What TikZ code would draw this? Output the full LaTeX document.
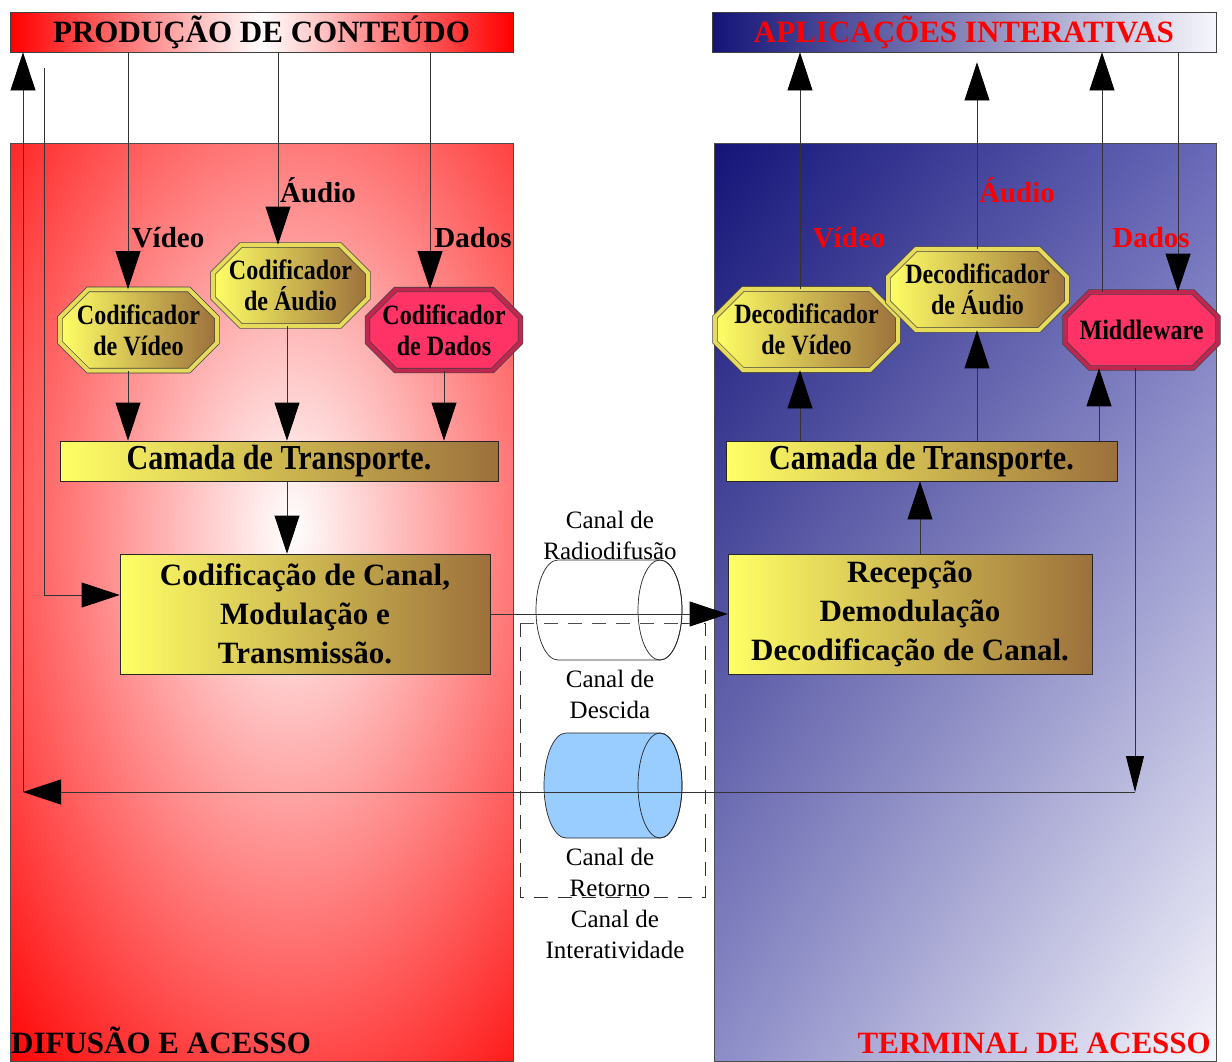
\documentclass[tikz,border=0pt]{standalone}
\usepackage{fontspec}
\setmainfont{Liberation Serif}
\newfontfamily\condserif[FakeStretch=0.86]{Liberation Serif}
\usetikzlibrary{arrows.meta,shapes.misc,shadings}

\definecolor{navyc}{RGB}{20,20,120}
\definecolor{navym}{RGB}{105,105,185}
\definecolor{navyl}{RGB}{140,140,200}
\definecolor{navyw}{RGB}{246,246,252}
\definecolor{boxyel}{RGB}{255,255,102}
\definecolor{boxbrn}{RGB}{156,112,60}
\definecolor{boxpnk}{RGB}{255,51,102}
\definecolor{boxpnkd}{RGB}{190,40,80}
\definecolor{cylblue}{RGB}{153,204,255}

\newcommand{\hdrfont}{\fontsize{31}{36}\selectfont\bfseries}
\newcommand{\octfont}{\condserif\fontsize{28}{31}\selectfont\bfseries}
\newcommand{\camfont}{\condserif\fontsize{35}{39}\selectfont\bfseries}
\newcommand{\boxfont}{\fontsize{31}{39}\selectfont\bfseries}
\newcommand{\lblfont}{\fontsize{29}{34}\selectfont\bfseries}
\newcommand{\chfont}{\fontsize{25}{31}\selectfont}

\tikzset{
  arr/.style={draw=black!80,line width=0.8pt,-{Triangle[length=38pt,width=25pt,color=black]}},
  arrn/.style={draw=black!80,line width=0.8pt,-{Triangle[length=36pt,width=18pt,color=black]}},
  hdr/.style={draw=black!75,line width=0.8pt,minimum width=503,minimum height=40,inner sep=0pt,font=\hdrfont},
  octa/.style={chamfered rectangle,chamfered rectangle xsep=14pt,chamfered rectangle ysep=14pt,
    draw=black!75,line width=0.7pt,double distance=4pt,align=center,inner sep=1pt,font=\octfont},
  yoct/.style={octa,left color=boxyel,middle color=boxyel!85!boxbrn,right color=boxbrn,double=boxyel!75!boxbrn},
  poct/.style={octa,fill=boxpnk,double=boxpnkd},
  ybox/.style={draw=black!85,line width=0.8pt,left color=boxyel,middle color=boxyel!88!boxbrn,right color=boxbrn,
    align=center,inner sep=0pt,font=\boxfont},
  lbl/.style={font=\lblfont,inner sep=0pt},
  chlbl/.style={font=\chfont,align=center,inner sep=0pt},
  bot/.style={font=\hdrfont,inner sep=1pt}
}

\begin{document}
\begin{tikzpicture}[x=1pt,y=1pt,yscale=-1]
\useasboundingbox (0,0) rectangle (1232,1061);

%Shape: left panel
\begin{scope}
\clip (10,143) rectangle (513,1061);
\shade[inner color=white,outer color=red] (-130,-210) rectangle (710,1270);
\end{scope}
\draw[black!70,line width=0.8pt] (10,143) rectangle (513,1061);

%Shape: right panel
\shade[upper left=navyc,upper right=navym,lower left=navyl,lower right=navyw] (714,143) rectangle (1216,1061);
\draw[black!70,line width=0.8pt] (714,143) rectangle (1216,1061);

%Shape: dashed box
\draw[black!80,line width=0.8pt,dash pattern=on 14pt off 10pt] (520,623) rectangle (705,897);

%Shape: Cylinder radiodifusao
\draw[black!85,line width=0.7pt,fill=white] (558,560) -- (660,560) arc[start angle=-90,end angle=90,x radius=22,y radius=50]
  -- (558,660) arc[start angle=90,end angle=270,x radius=22,y radius=50] -- cycle;
\draw[black!85,line width=0.7pt] (660,610) ellipse [x radius=22,y radius=50];
\draw[black!70,line width=0.8pt,dash pattern=on 14pt off 10pt] (520,623) -- (690,623);

%Shape: Cylinder retorno
\draw[black!85,line width=0.7pt,fill=cylblue] (566,733) -- (660,733) arc[start angle=-90,end angle=90,x radius=22,y radius=52.5]
  -- (566,838) arc[start angle=90,end angle=270,x radius=22,y radius=52.5] -- cycle;
\draw[black!85,line width=0.7pt] (660,785.5) ellipse [x radius=22,y radius=52.5];

% headers
\node[hdr,left color=red,right color=red,middle color=white] (prod) at (261.5,32) {PRODUÇÃO DE CONTEÚDO};
\node[hdr,left color=navyc,right color=navyw,text=red,minimum width=504] (apli) at (964,32) {APLICAÇÕES INTERATIVAS};

% coders
\node[yoct,minimum width=157,minimum height=76] (codv) at (138.5,330) {Codificador\\de Vídeo};
\node[yoct,minimum width=155,minimum height=75] (coda) at (290.5,285.5) {Codificador\\de Áudio};
\node[poct,minimum width=152,minimum height=76] (codd) at (444,330) {Codificador\\de Dados};
\node[yoct,minimum width=183,minimum height=75] (decv) at (806.5,329.5) {Decodificador\\de Vídeo};
\node[yoct,minimum width=179,minimum height=75] (deca) at (977.5,289.5) {Decodificador\\de Áudio};
\node[poct,minimum width=153,minimum height=76] (midw) at (1141.5,330) {Middleware};

% layers
\node[ybox,font=\camfont,minimum width=438,minimum height=40] (camL) at (279,461) {Camada de Transporte.};
\node[ybox,minimum width=370,minimum height=120] (codc) at (305,614) {Codificação de Canal,\\Modulação e\\Transmissão.};
\node[ybox,font=\camfont,minimum width=391,minimum height=40] (camR) at (921.5,461) {Camada de Transporte.};
\node[ybox,minimum width=364,minimum height=120] (recp) at (910,614) {Recepção\\Demodulação\\Decodificação de Canal.};

% Text Node
\node[lbl] (lvid) at (168,238) {Vídeo};
\node[lbl] (laud) at (318,190) {Áudio};
\node[lbl] (ldad) at (473,238) {Dados};
\node[lbl,text=red] (rvid) at (849,238) {Vídeo};
\node[lbl,text=red] (raud) at (1017,190) {Áudio};
\node[lbl,text=red] (rdad) at (1151,238) {Dados};
\node[chlbl] (radio) at (610,535) {Canal de\\Radiodifusão};
\node[chlbl] (desc) at (610,694) {Canal de\\Descida};
\node[chlbl] (reto) at (610,872) {Canal de\\Retorno};
\node[chlbl] (inter) at (615,934) {Canal de\\Interatividade};
\node[bot,anchor=south west] (difu) at (10,1055) {DIFUSÃO E ACESSO};
\node[bot,anchor=south east,text=red] (term) at (1212,1055) {TERMINAL DE ACESSO};

% arrow positions
\coordinate (xv) at (128,0);
\coordinate (xa) at (278,0);
\coordinate (xd) at (430,0);
\coordinate (xa2) at (287,0);
\coordinate (xd2) at (444,0);
\coordinate (yv) at (800,0);
\coordinate (ya) at (977,0);
\coordinate (ym) at (1102,0);
\coordinate (ym2) at (1099,0);
\coordinate (yt) at (920,0);
\coordinate (ymd) at (1178,0);
\coordinate (retL) at (23,792);
\coordinate (retR) at (1135,792);
\coordinate (fbT) at (44,68);
\coordinate (fbB) at (44,595);

%Straight Lines
\draw[arr] (prod.south -| xv) -- (codv.north -| xv);
\draw[arr] (prod.south -| xa) -- (coda.north -| xa);
\draw[arr] (prod.south -| xd) -- (codd.north -| xd);
\draw[arr] (codv.south -| xv) -- (camL.north -| xv);
\draw[arr] (coda.south -| xa2) -- (camL.north -| xa2);
\draw[arr] (codd.south -| xd2) -- (camL.north -| xd2);
\draw[arr] (camL.south -| xa2) -- (codc.north -| xa2);
\draw[arr] (codc.east) -- (recp.west);
\draw[arr] (recp.north -| yt) -- (camR.south -| yt);
\draw[arr] (camR.north -| yv) -- (decv.south -| yv);
\draw[arr] (camR.north -| ya) -- (deca.south -| ya);
\draw[arr] (camR.north -| ym2) -- (midw.south -| ym2);
\draw[arr] (decv.north -| yv) -- (apli.south -| yv);
\draw[arr,shorten >=10pt] (deca.north -| ya) -- (apli.south -| ya);
\draw[arr] (midw.north -| ym) -- (apli.south -| ym);
\draw[arr] (apli.south -| ymd) -- (midw.north -| ymd);

%return path
\draw[arrn] (midw.south -| retR) -- (retR);
\draw[arr] (retR) -- (retL);
\draw[arr] (retL) -- (retL |- prod.south);
\draw[arr] (fbT) -- (fbB) -- (fbB -| codc.west);

\end{tikzpicture}
\end{document}
